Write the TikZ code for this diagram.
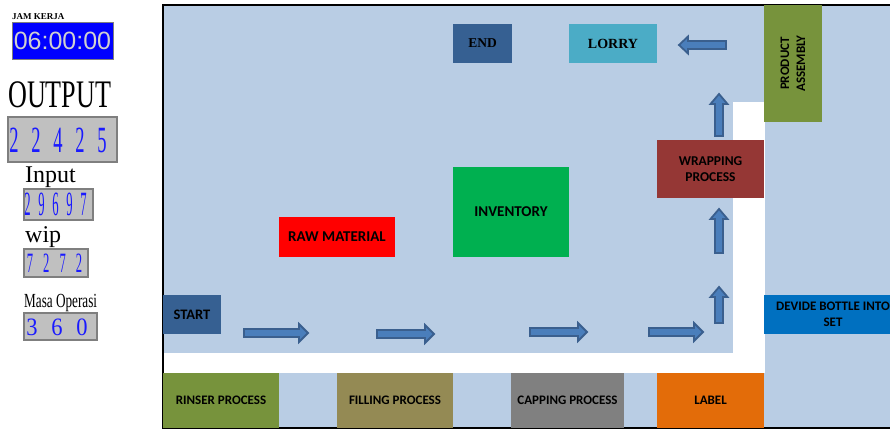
\documentclass[tikz,border=0pt]{standalone}
\usepackage{fontspec}
\usepackage{graphicx}
\setmainfont{Liberation Serif}
\newfontfamily\carl{Carlito}
\newfontfamily\lsans{Liberation Sans}
\definecolor{bgblue}{HTML}{B9CDE4}
\definecolor{cstart}{HTML}{366092}
\definecolor{clorry}{HTML}{4BACC6}
\definecolor{cinv}{HTML}{00B050}
\definecolor{craw}{HTML}{FF0000}
\definecolor{cwrap}{HTML}{953735}
\definecolor{colive}{HTML}{77933C}
\definecolor{cdev}{HTML}{0070C0}
\definecolor{cfill}{HTML}{948A54}
\definecolor{ccap}{HTML}{808080}
\definecolor{clabel}{HTML}{E36C09}
\definecolor{arrfill}{HTML}{4A7EBB}
\definecolor{arrline}{HTML}{3A5F8E}
\definecolor{digblue}{HTML}{1A1AFF}
\definecolor{boxgray}{HTML}{C0C0C0}
\definecolor{boxline}{HTML}{7F7F7F}
\definecolor{clocktext}{HTML}{D0D0D0}
\newlength\dw
\newcommand\dsx{0.5}
\newcommand\dd[1]{\makebox[\dw]{\scalebox{\dsx}[1]{#1}}}
\newcommand\rarr[3]{\filldraw[blockarrow] (#1,#3-4) -- (#2-9,#3-4) -- (#2-9,#3-9) -- (#2,#3) -- (#2-9,#3+9) -- (#2-9,#3+4) -- (#1,#3+4) -- cycle;}
\newcommand\larr[3]{\filldraw[blockarrow] (#1,#3-4) -- (#2+9,#3-4) -- (#2+9,#3-8.5) -- (#2,#3) -- (#2+9,#3+8.5) -- (#2+9,#3+4) -- (#1,#3+4) -- cycle;}
\newcommand\uarr[3]{\filldraw[blockarrow] (#1-4,#2) -- (#1-4,#3+10) -- (#1-8.5,#3+10) -- (#1,#3) -- (#1+8.5,#3+10) -- (#1+4,#3+10) -- (#1+4,#2) -- cycle;}
\begin{document}
\begin{tikzpicture}[x=1pt,y=-1pt,
  blockarrow/.style={fill=arrfill,draw=arrline,line width=1.8pt,line join=miter},
  pbox/.style={rectangle,inner sep=0pt,align=center,text=black},
  sf/.style={font=\carl\bfseries\fontsize{#1}{16}\selectfont},
  rf/.style={font=\bfseries\fontsize{#1}{16}\selectfont},
  counter/.style={rectangle,inner sep=0pt,fill=boxgray,draw=boxline,line width=1.2pt},
  digits/.style={inner sep=0pt,text=digblue},
  caption/.style={inner sep=0pt,anchor=base west,text=black}]
\useasboundingbox (0,0) rectangle (890,430);
\clip (0,0) rectangle (890,430);
\fill[white] (0,0) rectangle (890,430);
% floor
\fill[bgblue] (163,5) rectangle (890,428);
\fill[white] (163,353) rectangle (765,373);
\fill[white] (733,102) rectangle (765,373);
\draw[line width=1.5pt] (890,5) -- (163,5) -- (163,428) -- (890,428);
% process boxes
\node[pbox,fill=cstart,minimum width=58pt,minimum height=39pt,sf=14.5] (start) at (192,314.5) {START};
\node[pbox,fill=cstart,minimum width=59pt,minimum height=39pt,rf=13.5] (endn) at (482.5,43.5) {END};
\node[pbox,fill=clorry,minimum width=88pt,minimum height=39pt,rf=14] (lorry) at (613,43.5) {LORRY};
\node[pbox,fill=cinv,minimum width=116pt,minimum height=90pt,sf=15] (inv) at (511,212) {INVENTORY};
\node[pbox,fill=craw,minimum width=116pt,minimum height=40pt,sf=15] (raw) at (337,237) {RAW MATERIAL};
\node[pbox,fill=cwrap,minimum width=107pt,minimum height=58pt,sf=13.5] (wrap) at (710.5,169) {WRAPPING\\PROCESS};
\node[pbox,fill=colive,minimum width=117pt,minimum height=58pt,rotate=90,sf=13] (prod) at (793,63.5) {PRODUCT\\ASSEMBLY};
\node[pbox,fill=cdev,minimum width=138pt,minimum height=39pt,sf=13] (dev) at (833,314.5) {DEVIDE BOTTLE INTO\\SET};
\node[pbox,fill=colive,minimum width=116pt,minimum height=55pt,sf=13] (rinser) at (221,400.5) {RINSER PROCESS};
\node[pbox,fill=cfill,minimum width=116pt,minimum height=55pt,sf=13] (filling) at (395,400.5) {FILLING PROCESS};
\node[pbox,fill=ccap,minimum width=113pt,minimum height=55pt,sf=13] (capping) at (567.5,400.5) {CAPPING PROCESS};
\node[pbox,fill=clabel,minimum width=107pt,minimum height=55pt,sf=13] (label) at (710.5,400.5) {LABEL};
% block arrows
\rarr{244}{308}{333}
\rarr{377}{434}{334}
\rarr{530}{587}{332}
\rarr{649}{703}{332}
\uarr{719}{323}{287}
\uarr{719}{253}{209}
\uarr{719}{136}{94}
\larr{726}{679}{45}
% left panel
\node[caption,font=\bfseries\fontsize{9}{9}\selectfont] (jam) at (12,20) {JAM KERJA};
\node[rectangle,inner sep=0pt,fill=blue,draw=boxline,line width=0.8pt,minimum width=101pt,minimum height=37pt,text=clocktext,font=\lsans\fontsize{25}{25}\selectfont] (clock) at (62.5,40.5) {06:00:00};
\node[caption,font=\fontsize{39}{39}\selectfont] (outlbl) at (8,108) {\scalebox{0.67}[1]{OUTPUT}};
\node[counter,minimum width=109pt,minimum height=45pt] (outbox) at (62.5,139.5) {};
\node[digits,font=\fontsize{37}{37}\selectfont\setlength\dw{22pt}\renewcommand\dsx{0.5}] (outval) at (58,140.5) {\dd{2}\dd{2}\dd{4}\dd{2}\dd{5}};
\node[caption,font=\fontsize{24}{24}\selectfont] (inlbl) at (25,183) {Input};
\node[counter,minimum width=69pt,minimum height=31pt] (inbox) at (58.5,204.5) {};
\node[digits,font=\fontsize{34}{34}\selectfont\setlength\dw{14pt}\renewcommand\dsx{0.37}] (inval) at (55.5,204) {\dd{2}\dd{9}\dd{6}\dd{9}\dd{7}};
\node[caption,font=\fontsize{24}{24}\selectfont] (wiplbl) at (25,242) {wip};
\node[counter,minimum width=64pt,minimum height=28pt] (wipbox) at (56,263) {};
\node[digits,font=\fontsize{28}{28}\selectfont\setlength\dw{16.3pt}\renewcommand\dsx{0.45}] (wipval) at (54.5,263.5) {\dd{7}\dd{2}\dd{7}\dd{2}};
\node[caption,font=\fontsize{20}{20}\selectfont] (masalbl) at (24,307) {\scalebox{0.66}[1]{Masa Operasi}};
\node[counter,minimum width=73pt,minimum height=27pt] (masabox) at (60.5,326.5) {};
\node[digits,font=\fontsize{25}{25}\selectfont\setlength\dw{25pt}\renewcommand\dsx{0.9}] (masaval) at (57,327.5) {\dd{3}\dd{6}\dd{0}};
\end{tikzpicture}
\end{document}
